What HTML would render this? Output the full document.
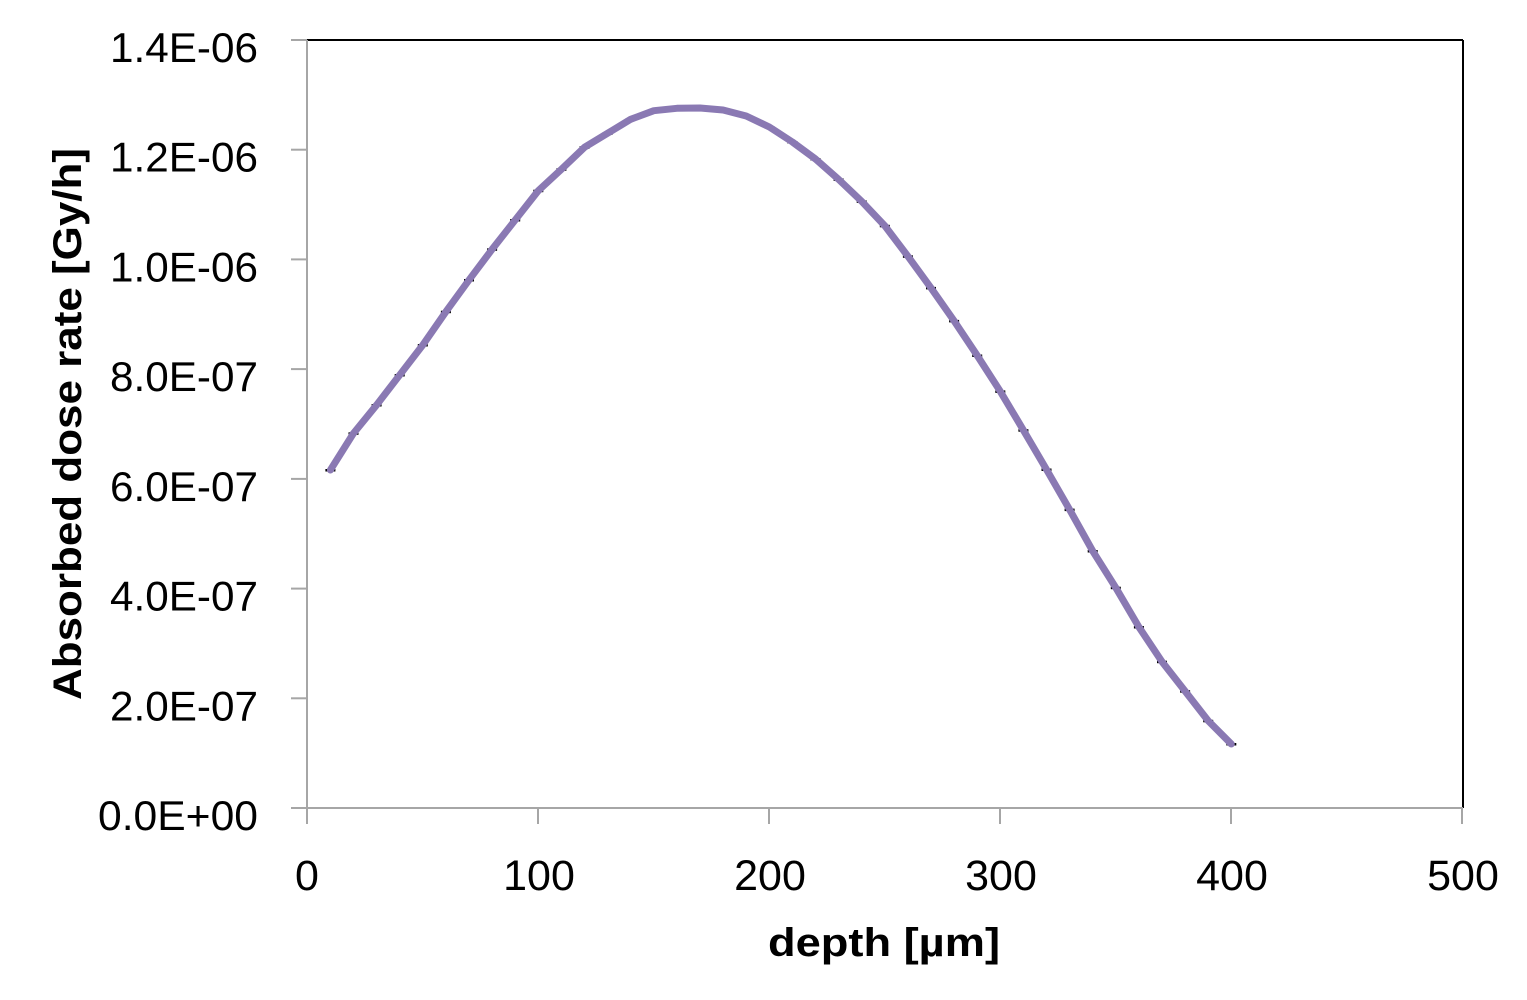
<!DOCTYPE html>
<html>
<head>
<meta charset="utf-8">
<style>
html,body{margin:0;padding:0;background:#fff;}
svg{display:block;}
text{font-family:"Liberation Sans",sans-serif;fill:#000;}
</style>
</head>
<body>
<svg width="1527" height="1000" viewBox="0 0 1527 1000" xmlns="http://www.w3.org/2000/svg">
<rect x="0" y="0" width="1527" height="1000" fill="#fff"/>
<line x1="307" y1="40" x2="1463" y2="40" stroke="#000" stroke-width="2"/>
<line x1="1463" y1="40" x2="1463" y2="808" stroke="#000" stroke-width="2"/>
<line x1="307" y1="40" x2="307" y2="824" stroke="#A6A6A6" stroke-width="2"/>
<line x1="291" y1="808" x2="1463" y2="808" stroke="#A6A6A6" stroke-width="2"/>
<g stroke="#A6A6A6" stroke-width="2">
<line x1="291" y1="40" x2="307" y2="40"/>
<line x1="291" y1="149.7" x2="307" y2="149.7"/>
<line x1="291" y1="259.4" x2="307" y2="259.4"/>
<line x1="291" y1="369.1" x2="307" y2="369.1"/>
<line x1="291" y1="478.9" x2="307" y2="478.9"/>
<line x1="291" y1="588.6" x2="307" y2="588.6"/>
<line x1="291" y1="698.3" x2="307" y2="698.3"/>
<line x1="538" y1="808" x2="538" y2="824"/>
<line x1="769" y1="808" x2="769" y2="824"/>
<line x1="1000" y1="808" x2="1000" y2="824"/>
<line x1="1231" y1="808" x2="1231" y2="824"/>
<line x1="1462" y1="808" x2="1462" y2="824"/>
</g>
<g font-size="42" text-anchor="end">
<text x="258" y="62" textLength="148" lengthAdjust="spacingAndGlyphs">1.4E-06</text>
<text x="258" y="171.7" textLength="148" lengthAdjust="spacingAndGlyphs">1.2E-06</text>
<text x="258" y="281.4" textLength="148" lengthAdjust="spacingAndGlyphs">1.0E-06</text>
<text x="258" y="391.1" textLength="148" lengthAdjust="spacingAndGlyphs">8.0E-07</text>
<text x="258" y="500.9" textLength="148" lengthAdjust="spacingAndGlyphs">6.0E-07</text>
<text x="258" y="610.6" textLength="148" lengthAdjust="spacingAndGlyphs">4.0E-07</text>
<text x="258" y="720.3" textLength="148" lengthAdjust="spacingAndGlyphs">2.0E-07</text>
<text x="258" y="830" textLength="160" lengthAdjust="spacingAndGlyphs">0.0E+00</text>
</g>
<g font-size="43" text-anchor="middle">
<text x="307" y="890">0</text>
<text x="539" y="890">100</text>
<text x="770" y="890">200</text>
<text x="1001" y="890">300</text>
<text x="1232" y="890">400</text>
<text x="1463" y="890">500</text>
</g>
<text x="884" y="956" font-size="40" font-weight="bold" text-anchor="middle" textLength="232" lengthAdjust="spacingAndGlyphs">depth [µm]</text>
<text transform="translate(81,424) rotate(-90)" font-size="40" font-weight="bold" text-anchor="middle" textLength="552" lengthAdjust="spacingAndGlyphs">Absorbed dose rate [Gy/h]</text>
<g fill="#000">
<rect x="325.4" y="469" width="10" height="2.5"/>
<rect x="348.5" y="432.3" width="10" height="2.5"/>
<rect x="371.6" y="404" width="10" height="2.5"/>
<rect x="394.7" y="374" width="10" height="2.5"/>
<rect x="417.8" y="344" width="10" height="2.5"/>
<rect x="440.9" y="310.7" width="10" height="2.5"/>
<rect x="464" y="279" width="10" height="2.5"/>
<rect x="487.1" y="248.3" width="10" height="2.5"/>
<rect x="510.2" y="219" width="10" height="2.5"/>
<rect x="533.3" y="189.7" width="10" height="2.5"/>
<rect x="556.4" y="168.3" width="10" height="2.5"/>
<rect x="579.5" y="146.3" width="10" height="2.5"/>
<rect x="602.6" y="132.3" width="10" height="2.5"/>
<rect x="625.7" y="118.3" width="10" height="2.5"/>
<rect x="648.8" y="109.7" width="10" height="2.5"/>
<rect x="671.9" y="107.3" width="10" height="2.5"/>
<rect x="695" y="107" width="10" height="2.5"/>
<rect x="718.1" y="109" width="10" height="2.5"/>
<rect x="741.2" y="115" width="10" height="2.5"/>
<rect x="764.3" y="126" width="10" height="2.5"/>
<rect x="787.4" y="141" width="10" height="2.5"/>
<rect x="810.5" y="158" width="10" height="2.5"/>
<rect x="833.6" y="178.4" width="10" height="2.5"/>
<rect x="856.7" y="200.4" width="10" height="2.5"/>
<rect x="879.8" y="224.8" width="10" height="2.5"/>
<rect x="902.9" y="255.3" width="10" height="2.5"/>
<rect x="926" y="286.9" width="10" height="2.5"/>
<rect x="949.1" y="319.9" width="10" height="2.5"/>
<rect x="972.2" y="354.5" width="10" height="2.5"/>
<rect x="995.3" y="390.4" width="10" height="2.5"/>
<rect x="1018.4" y="429.2" width="10" height="2.5"/>
<rect x="1041.5" y="468.5" width="10" height="2.5"/>
<rect x="1064.6" y="508.6" width="10" height="2.5"/>
<rect x="1087.7" y="550" width="10" height="2.5"/>
<rect x="1110.8" y="586.7" width="10" height="2.5"/>
<rect x="1133.9" y="626" width="10" height="2.5"/>
<rect x="1157" y="660.7" width="10" height="2.5"/>
<rect x="1180.1" y="690.2" width="10" height="2.5"/>
<rect x="1203.2" y="719.8" width="10" height="2.5"/>
<rect x="1226.3" y="743" width="10" height="2.5"/>
</g>
<polyline fill="none" stroke="#8A79B3" stroke-width="7" stroke-linejoin="round" stroke-linecap="round"
points="330.4,470 353.5,433.3 376.6,405 399.7,375 422.8,345 445.9,311.7 469,280 492.1,249.3 515.2,220 538.3,190.7 561.4,169.3 584.5,147.3 607.6,133.3 630.7,119.3 653.8,110.7 676.9,108.3 700,108 723.1,110 746.2,116 769.3,127 792.4,142 815.5,159 838.6,179.4 861.7,201.4 884.8,225.8 907.9,256.3 931,287.9 954.1,320.9 977.2,355.5 1000.3,391.4 1023.4,430.2 1046.5,469.5 1069.6,509.6 1092.7,551 1115.8,587.7 1138.9,627 1162,661.7 1185.1,691.2 1208.2,720.8 1231.3,744"/>
</svg>
</body>
</html>
